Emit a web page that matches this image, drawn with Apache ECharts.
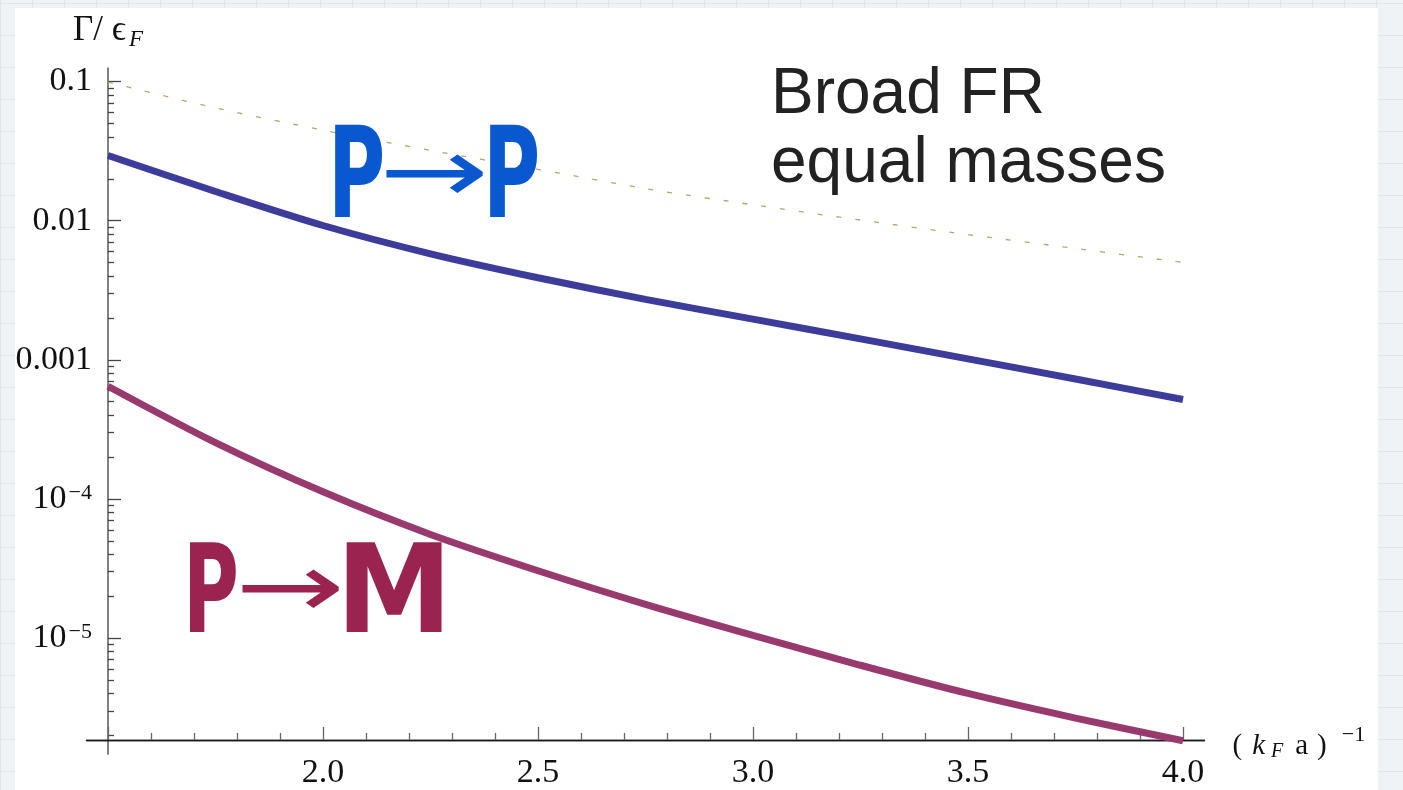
<!DOCTYPE html>
<html>
<head>
<meta charset="utf-8">
<script src="https://cdn.jsdelivr.net/npm/echarts@6/dist/echarts.min.js"></script>
<style>
  html, body { margin: 0; padding: 0; }
  #wrap {
    position: relative; width: 1403px; height: 790px; overflow: hidden;
    background-color: #eff3f5;
    background-image: linear-gradient(#dde6ec 1px, transparent 1px),
                      linear-gradient(90deg, #dde6ec 1px, transparent 1px);
    background-size: 32px 32px;
    background-position: 0 3px;
  }
  #panel { position: absolute; left: 15px; top: 8px; width: 1363px; height: 782px; background: #fff; }
  #chart { position: absolute; left: 0; top: 0; width: 1403px; height: 790px; }
</style>
</head>
<body>
<div id="wrap"><div id="panel"></div><div id="chart"></div></div>
<script>
// (k_F a)^-1 sample points
const xValues = [1.5, 1.75, 2.0, 2.25, 2.5, 2.75, 3.0, 3.25, 3.5, 3.75, 4.0];
// Gamma / eps_F
const ppRate = [0.0294, 0.0162, 0.00923, 0.00578, 0.00389, 0.00272, 0.00196, 0.001413, 0.001016, 0.000728, 0.000519];
const pmRate = [6.46e-4, 2.54e-4, 1.125e-4, 5.56e-5, 3.05e-5, 1.75e-5, 1.047e-5, 6.38e-6, 4.0e-6, 2.66e-6, 1.83e-6];
const refRate = [0.0989, 0.0646, 0.0447, 0.0320, 0.0234, 0.0170, 0.0130, 0.0101, 0.00794, 0.00631, 0.00501];

// ticks
const xMajorTicks = [1.5, 2.0, 2.5, 3.0, 3.5, 4.0];
const xLabelValues = [2.0, 2.5, 3.0, 3.5, 4.0];
const xTickLabels = ['2.0', '2.5', '3.0', '3.5', '4.0'];
const xMinorTicks = [1.6, 1.7, 1.8, 1.9, 2.1, 2.2, 2.3, 2.4, 2.6, 2.7, 2.8, 2.9,
                     3.1, 3.2, 3.3, 3.4, 3.6, 3.7, 3.8, 3.9];
const yMajorTicks = [0.1, 0.01, 0.001, 1e-4, 1e-5];
const yTickLabels = ['0.1', '0.01', '0.001', '10{sup|−4}', '10{sup|−5}'];
const yDecades = [1e-6, 1e-5, 1e-4, 1e-3, 1e-2];
const yMantissas = [2, 3, 4, 5, 6, 7, 8, 9];

let yMinorTicks = [];
yDecades.forEach(d => yMantissas.forEach(m => yMinorTicks.push(m * d)));

const serif = '"Liberation Serif", "DejaVu Serif", serif';
const ink = '#111';
const xMin = 1.45, xMax = 4.05;
const yMin = Math.pow(10, -5.833), yMax = Math.pow(10, -0.905);

function pairs(ys) {
    return xValues.map((x, i) => [x, ys[i]]);
}

function yLabel(v) {
    for (let i = 0; i < yMajorTicks.length; i++) {
        if (Math.abs(Math.log10(v / yMajorTicks[i])) < 1e-6) return yTickLabels[i];
    }
    return '';
}

function xLabel(v) {
    for (let i = 0; i < xLabelValues.length; i++) {
        if (Math.abs(v - xLabelValues[i]) < 1e-6) return xTickLabels[i];
    }
    return '';
}

let chart = echarts.init(document.getElementById('chart'));

let baseX = {
    type: 'value', min: xMin, max: xMax, position: 'bottom', offset: -14,
    splitLine: { show: false },
    axisLine: { show: true, lineStyle: { color: '#1a1a1a', width: 1.3 } }
};
let baseY = {
    type: 'log', logBase: 10, min: yMin, max: yMax, position: 'left', offset: -21.5,
    splitLine: { show: false },
    axisLine: { show: true, lineStyle: { color: '#7d7d7d', width: 1.6 } }
};

let option = {
    animation: false,
    grid: { left: 86.5, right: 198.5, top: 68.3, bottom: 31.8 },
    xAxis: [
        Object.assign({}, baseX, {
            axisTick: { show: true, inside: true, length: 13, customValues: xMajorTicks,
                        lineStyle: { color: '#666', width: 1.3 } },
            axisLabel: { show: true, customValues: xLabelValues, formatter: xLabel,
                         fontFamily: serif, fontSize: 34, color: ink, margin: 16 },
            name: '{p|(}{i|k}{sub|F}{a|a}{c|)}{sup|−1}',
            nameLocation: 'end', nameGap: 28,
            nameTextStyle: {
                fontFamily: serif, fontSize: 29, color: ink, padding: [12, 0, 0, 0],
                rich: {
                    p: { fontFamily: serif, fontSize: 29, lineHeight: 44, color: ink },
                    i: { fontFamily: serif, fontSize: 29, lineHeight: 44, fontStyle: 'italic', color: ink, padding: [0, 0, 0, 10] },
                    sub: { fontFamily: serif, fontSize: 20, fontStyle: 'italic', color: ink, padding: [12, 0, 0, 6] },
                    a: { fontFamily: serif, fontSize: 29, lineHeight: 44, color: ink, padding: [0, 0, 0, 12] },
                    c: { fontFamily: serif, fontSize: 29, lineHeight: 44, color: ink, padding: [0, 0, 0, 9] },
                    sup: { fontFamily: serif, fontSize: 22, color: ink, verticalAlign: 'top', padding: [0, 0, 0, 15] }
                }
            }
        }),
        Object.assign({}, baseX, {
            axisTick: { show: true, inside: true, length: 7, customValues: xMinorTicks,
                        lineStyle: { color: '#666', width: 1.3 } },
            axisLabel: { show: false }
        })
    ],
    yAxis: [
        Object.assign({}, baseY, {
            axisTick: { show: true, inside: true, length: 13, customValues: yMajorTicks,
                        lineStyle: { color: '#444', width: 1.3 } },
            axisLabel: {
                show: true, customValues: yMajorTicks, formatter: yLabel,
                fontFamily: serif, fontSize: 34, color: ink, margin: 16,
                rich: { sup: { fontFamily: serif, fontSize: 22, color: ink, verticalAlign: 'top', padding: [0, 0, 0, 2] } }
            },
            name: '{n|Γ/ ϵ}{sub|F}',
            nameLocation: 'end', nameGap: 17,
            nameTextStyle: {
                fontFamily: serif, fontSize: 35, color: ink,
                rich: {
                    n: { fontFamily: serif, fontSize: 35, lineHeight: 40, color: ink },
                    sub: { fontFamily: serif, fontSize: 23, fontStyle: 'italic', color: ink, padding: [18, 0, 0, 3] }
                }
            }
        }),
        Object.assign({}, baseY, {
            axisTick: { show: true, inside: true, length: 6, customValues: yMinorTicks,
                        lineStyle: { color: '#444', width: 1.3 } },
            axisLabel: { show: false }
        })
    ],
    series: [
        {
            name: 'reference', type: 'line', data: pairs(refRate), smooth: 0.3,
            showSymbol: false, z: 1,
            lineStyle: { color: '#b5a66a', width: 1.3, type: [5, 14] }
        },
        {
            name: 'P→P', type: 'line', data: pairs(ppRate), smooth: 0.3,
            showSymbol: false, z: 3,
            lineStyle: { color: '#3e3c9a', width: 7 }
        },
        {
            name: 'P→M', type: 'line', data: pairs(pmRate), smooth: 0.3,
            showSymbol: false, z: 3,
            lineStyle: { color: '#993a6f', width: 7 }
        }
    ],
    graphic: [
        {
            type: 'text', x: 771, y: 61, z: 10,
            style: { text: 'Broad FR\nequal masses', font: '64px "Liberation Sans", Arial, sans-serif',
                     lineHeight: 69, fill: '#222', textAlign: 'left', textVerticalAlign: 'top' }
        },
        // P -> P
        { type: 'text', x: 328, y: 184, scaleX: 0.62, z: 10,
          style: { text: 'P', font: 'bold 126px "DejaVu Sans"', fill: '#0a58d0', textVerticalAlign: 'middle' } },
        { type: 'text', x: 379, y: 179, scaleX: 1.46, z: 10,
          style: { text: '→', font: '90px "DejaVu Sans"', fill: '#0a58d0', textVerticalAlign: 'middle' } },
        { type: 'text', x: 483, y: 184, scaleX: 0.62, z: 10,
          style: { text: 'P', font: 'bold 126px "DejaVu Sans"', fill: '#0a58d0', textVerticalAlign: 'middle' } },
        // P -> M
        { type: 'text', x: 183, y: 600, scaleX: 0.62, z: 10,
          style: { text: 'P', font: 'bold 123px "DejaVu Sans"', fill: '#9b2350', textVerticalAlign: 'middle' } },
        { type: 'text', x: 235, y: 594, scaleX: 1.46, z: 10,
          style: { text: '→', font: '90px "DejaVu Sans"', fill: '#9b2350', textVerticalAlign: 'middle' } },
        { type: 'text', x: 336, y: 600, scaleX: 0.95, z: 10,
          style: { text: 'M', font: 'bold 123px "DejaVu Sans"', fill: '#9b2350', textVerticalAlign: 'middle' } }
    ]
};
option && chart.setOption(option);
</script>
</body>
</html>
